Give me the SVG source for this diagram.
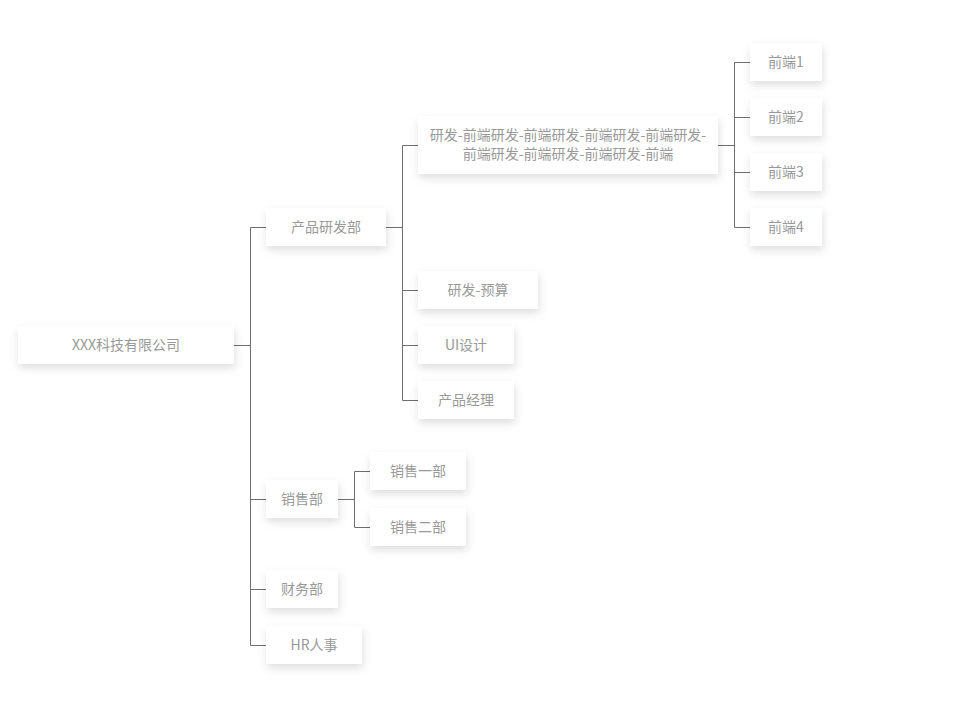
<svg xmlns="http://www.w3.org/2000/svg" width="978" height="715" viewBox="0 0 978 715">
<style>
.box{fill:#ffffff;filter:url(#sh)}
.t{font-family:"Noto Sans CJK SC","Liberation Sans",sans-serif;font-size:14px;fill:#999999;text-anchor:middle;dominant-baseline:central}
.c{fill:none;stroke:#6e6e6e;stroke-width:1}
</style>
<defs>
<filter id="sh" x="-30%" y="-40%" width="160%" height="200%">
<feDropShadow dx="1" dy="4" stdDeviation="4.5" flood-color="#000" flood-opacity="0.13"/>
</filter>
</defs>
<rect width="978" height="715" fill="#ffffff"/>
<g id="connectors">
<path class="c" d="M234 345.5H250.5M250.5 227.5V645.5M250.5 227.5H266M250.5 499.5H266M250.5 589.5H266M250.5 645.5H266"/>
<path class="c" d="M386 227.5H402.5M402.5 145.5V400.5M402.5 145.5H418M402.5 290.5H418M402.5 345.5H418M402.5 400.5H418"/>
<path class="c" d="M718 145.5H734.5M734.5 62.5V227.5M734.5 62.5H750M734.5 117.5H750M734.5 172.5H750M734.5 227.5H750"/>
<path class="c" d="M338 499.5H354.5M354.5 471.5V527.5M354.5 471.5H370M354.5 527.5H370"/>
</g>
<g id="root"><rect class="box" x="18" y="326" width="216" height="38"/><text class="t" x="126" y="344">XXX科技有限公司</text></g>
<g id="n-rd"><rect class="box" x="266" y="208" width="120" height="38"/><text class="t" x="326" y="226">产品研发部</text></g>
<g id="n-sales"><rect class="box" x="266" y="480" width="72" height="38"/><text class="t" x="302" y="498">销售部</text></g>
<g id="n-fin"><rect class="box" x="266" y="570" width="72" height="38"/><text class="t" x="302" y="588">财务部</text></g>
<g id="n-hr"><rect class="box" x="266" y="626" width="96" height="38"/><text class="t" x="314" y="644">HR人事</text></g>
<g id="n-fe"><rect class="box" x="418" y="116" width="300" height="58"/><text class="t" x="568" y="134">研发-前端研发-前端研发-前端研发-前端研发-</text><text class="t" x="568" y="153">前端研发-前端研发-前端研发-前端</text></g>
<g id="n-budget"><rect class="box" x="418" y="271" width="120" height="38"/><text class="t" x="478" y="289">研发-预算</text></g>
<g id="n-ui"><rect class="box" x="418" y="326" width="96" height="38"/><text class="t" x="466" y="344">UI设计</text></g>
<g id="n-pm"><rect class="box" x="418" y="381" width="96" height="38"/><text class="t" x="466" y="399">产品经理</text></g>
<g id="n-fe1"><rect class="box" x="750" y="43" width="72" height="38"/><text class="t" x="786" y="61">前端1</text></g>
<g id="n-fe2"><rect class="box" x="750" y="98" width="72" height="38"/><text class="t" x="786" y="116">前端2</text></g>
<g id="n-fe3"><rect class="box" x="750" y="153" width="72" height="38"/><text class="t" x="786" y="171">前端3</text></g>
<g id="n-fe4"><rect class="box" x="750" y="208" width="72" height="38"/><text class="t" x="786" y="226">前端4</text></g>
<g id="n-s1"><rect class="box" x="370" y="452" width="96" height="38"/><text class="t" x="418" y="470">销售一部</text></g>
<g id="n-s2"><rect class="box" x="370" y="508" width="96" height="38"/><text class="t" x="418" y="526">销售二部</text></g>
</svg>
